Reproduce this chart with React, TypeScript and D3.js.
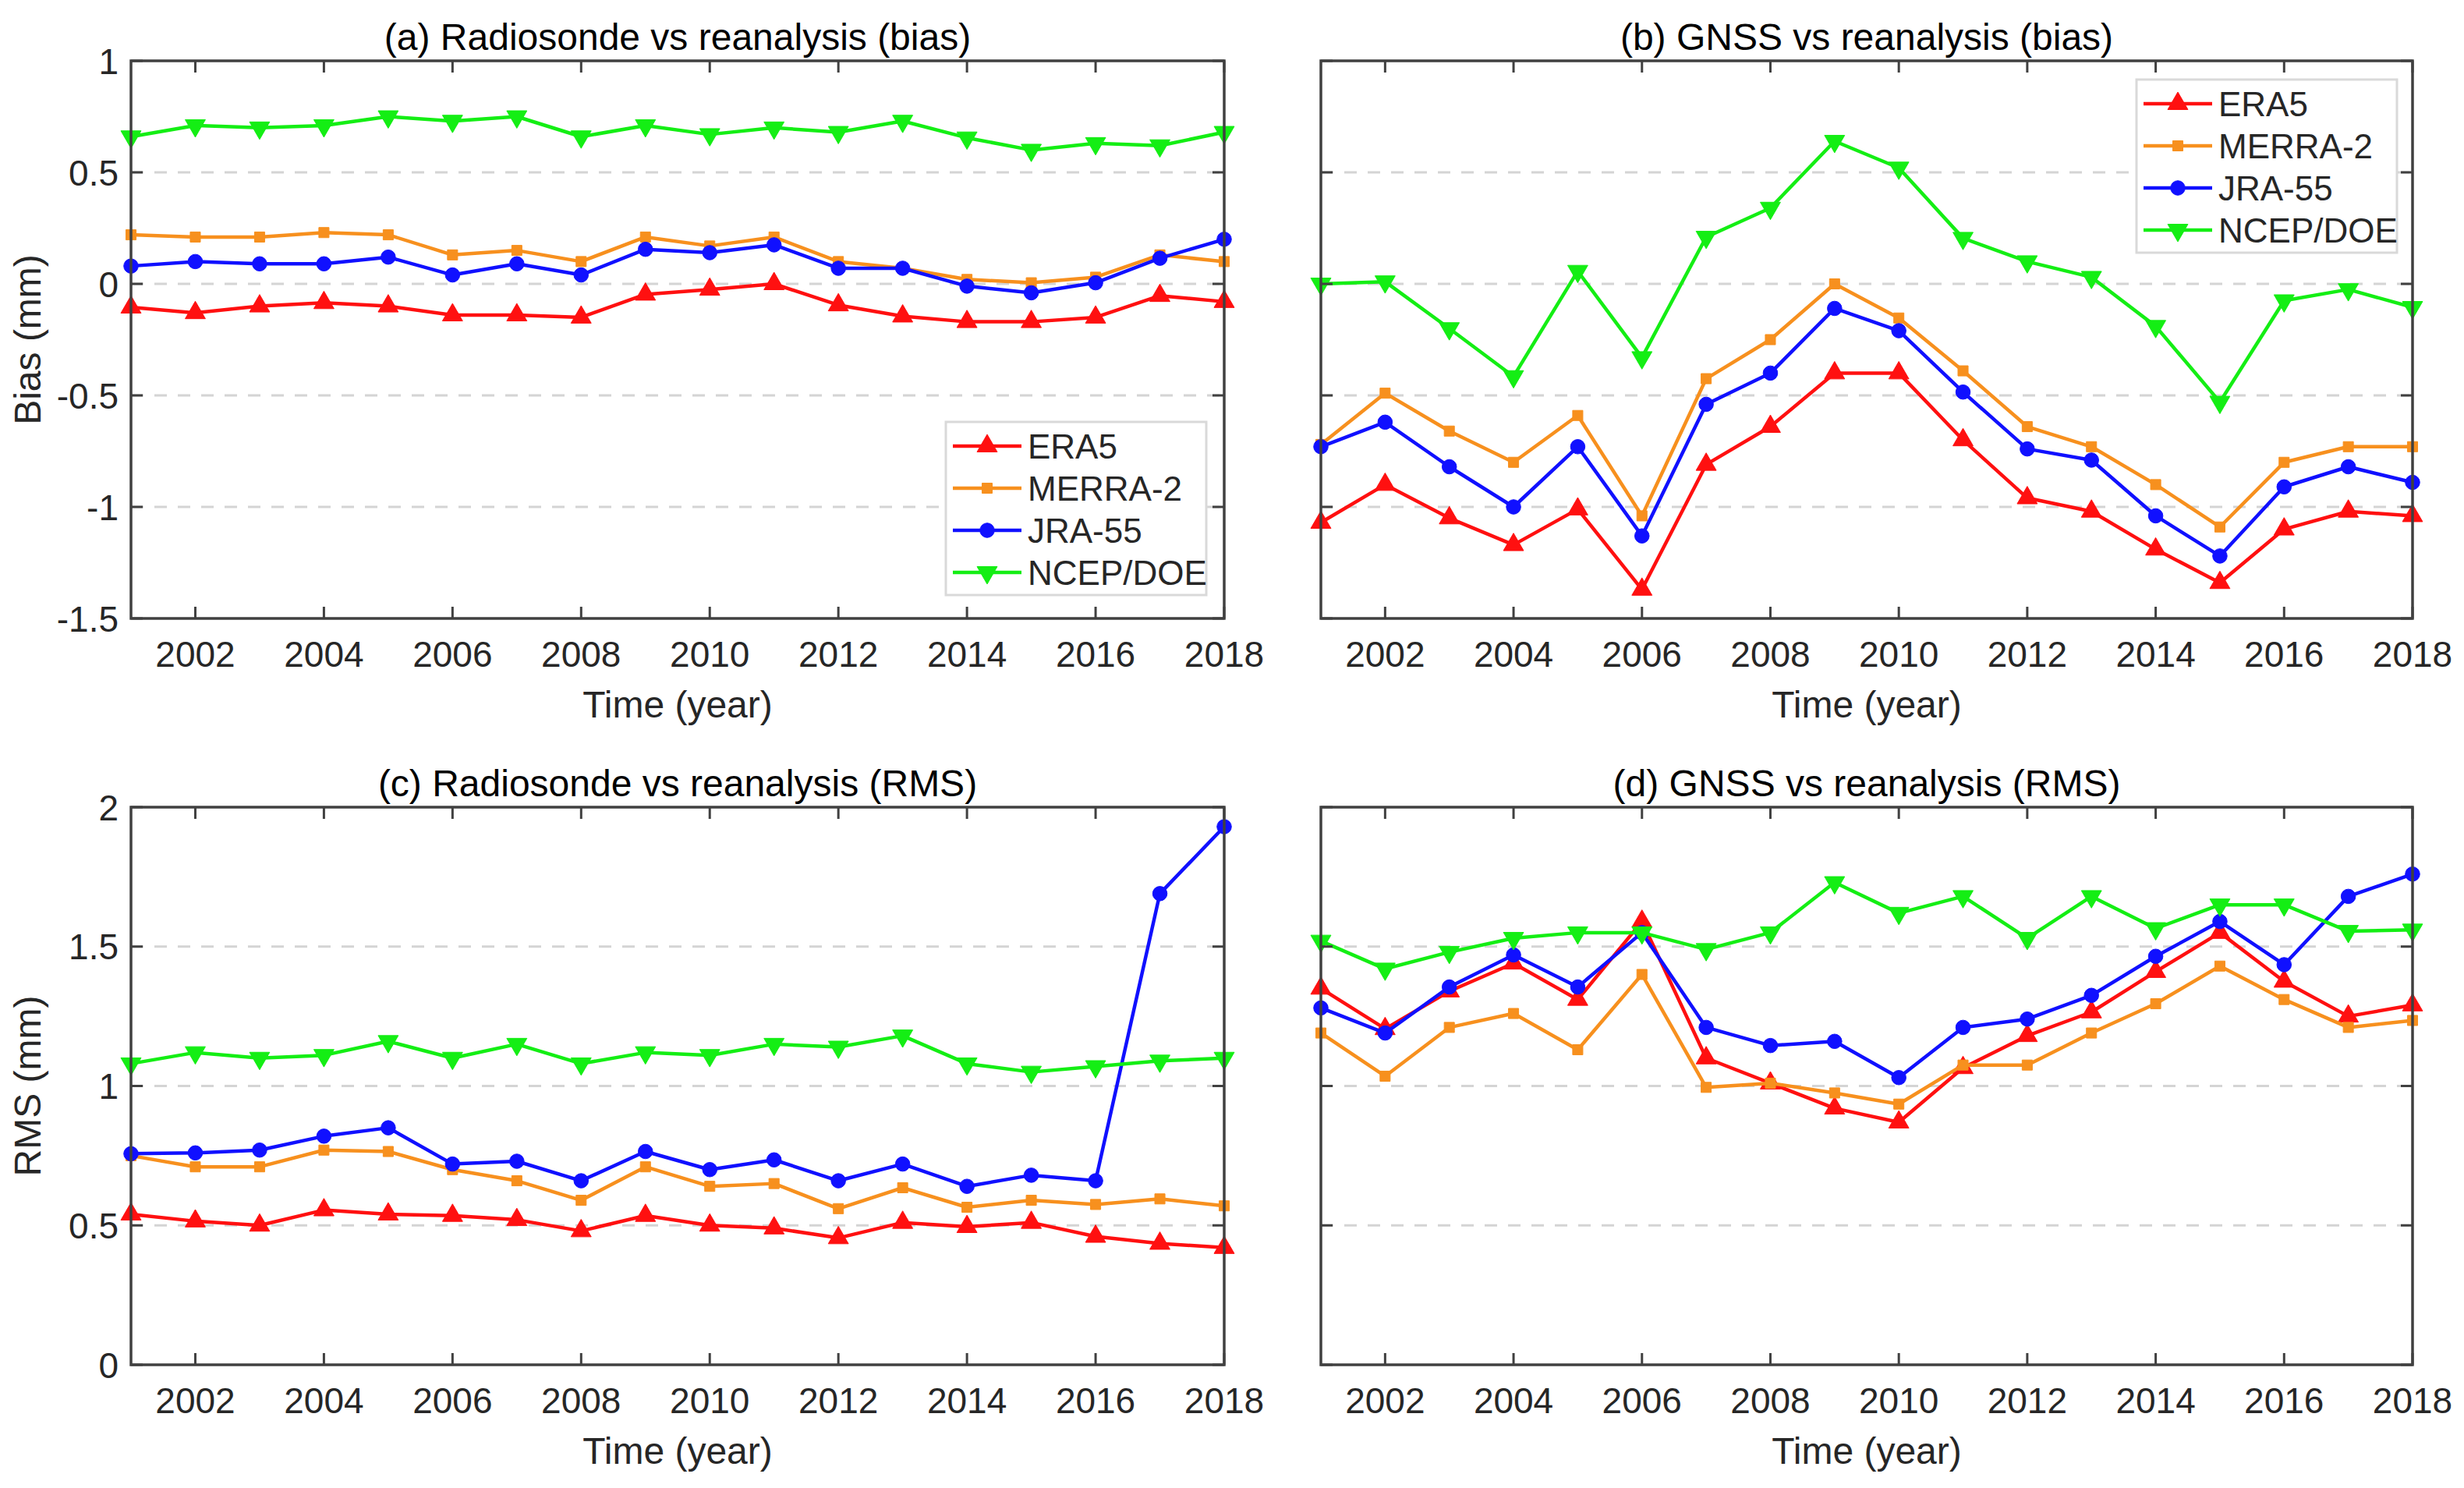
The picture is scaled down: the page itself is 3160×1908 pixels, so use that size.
import React from "react";
import * as d3 from "d3";

const years = [2001, 2002, 2003, 2004, 2005, 2006, 2007, 2008, 2009, 2010, 2011, 2012, 2013, 2014, 2015, 2016, 2017, 2018];
const xTickYears = [2002, 2004, 2006, 2008, 2010, 2012, 2014, 2016, 2018];
const seriesNames = ["ERA5", "MERRA-2", "JRA-55", "NCEP/DOE"];

// (a) Radiosonde vs reanalysis (bias)
const aERA5 = [-0.105, -0.13, -0.1, -0.085, -0.1, -0.14, -0.14, -0.15, -0.047, -0.025, 0.0, -0.095, -0.145, -0.17, -0.17, -0.15, -0.053, -0.08];
const aMERRA = [0.22, 0.21, 0.21, 0.23, 0.22, 0.13, 0.15, 0.1, 0.21, 0.17, 0.21, 0.1, 0.07, 0.02, 0.005, 0.03, 0.13, 0.1];
const aJRA = [0.08, 0.1, 0.09, 0.09, 0.12, 0.04, 0.09, 0.04, 0.155, 0.14, 0.175, 0.07, 0.07, -0.01, -0.04, 0.005, 0.115, 0.2];
const aNCEP = [0.66, 0.71, 0.7, 0.71, 0.75, 0.73, 0.75, 0.66, 0.71, 0.67, 0.7, 0.68, 0.73, 0.655, 0.6, 0.63, 0.62, 0.68];

// (b) GNSS vs reanalysis (bias)
const bERA5 = [-1.07, -0.9, -1.05, -1.17, -1.01, -1.37, -0.81, -0.64, -0.4, -0.4, -0.7, -0.96, -1.02, -1.19, -1.34, -1.1, -1.02, -1.04];
const bMERRA = [-0.72, -0.49, -0.66, -0.8, -0.59, -1.04, -0.425, -0.25, 0.0, -0.153, -0.39, -0.64, -0.73, -0.9, -1.09, -0.8, -0.73, -0.73];
const bJRA = [-0.73, -0.62, -0.82, -1.0, -0.73, -1.13, -0.54, -0.4, -0.11, -0.21, -0.485, -0.74, -0.79, -1.04, -1.22, -0.91, -0.82, -0.89];
const bNCEP = [0.0, 0.01, -0.2, -0.415, 0.057, -0.33, 0.21, 0.34, 0.64, 0.52, 0.205, 0.1, 0.03, -0.19, -0.53, -0.075, -0.025, -0.105];

// (c) Radiosonde vs reanalysis (RMS)
const cERA5 = [0.54, 0.515, 0.5, 0.555, 0.54, 0.535, 0.52, 0.48, 0.535, 0.5, 0.49, 0.455, 0.51, 0.495, 0.51, 0.46, 0.435, 0.42];
const cMERRA = [0.75, 0.71, 0.71, 0.77, 0.765, 0.7, 0.66, 0.59, 0.71, 0.64, 0.65, 0.56, 0.635, 0.565, 0.59, 0.575, 0.595, 0.57];
const cJRA = [0.757, 0.76, 0.77, 0.82, 0.85, 0.72, 0.73, 0.66, 0.765, 0.7, 0.735, 0.66, 0.72, 0.64, 0.68, 0.66, 1.69, 1.93];
const cNCEP = [1.08, 1.12, 1.1, 1.11, 1.16, 1.1, 1.15, 1.08, 1.12, 1.11, 1.15, 1.14, 1.18, 1.08, 1.05, 1.07, 1.09, 1.1];

// (d) GNSS vs reanalysis (RMS)
const dERA5 = [1.35, 1.205, 1.34, 1.44, 1.31, 1.59, 1.1, 1.01, 0.92, 0.87, 1.065, 1.18, 1.265, 1.41, 1.55, 1.375, 1.25, 1.29];
const dMERRA = [1.19, 1.035, 1.21, 1.26, 1.13, 1.4, 0.995, 1.01, 0.975, 0.935, 1.075, 1.075, 1.19, 1.295, 1.43, 1.31, 1.21, 1.235];
const dJRA = [1.28, 1.19, 1.355, 1.47, 1.355, 1.55, 1.21, 1.145, 1.16, 1.03, 1.21, 1.24, 1.325, 1.465, 1.59, 1.435, 1.68, 1.76];
const dNCEP = [1.52, 1.42, 1.48, 1.53, 1.55, 1.55, 1.49, 1.55, 1.73, 1.62, 1.68, 1.53, 1.68, 1.565, 1.65, 1.65, 1.555, 1.56];

const biasTicks = [-1.5, -1, -0.5, 0, 0.5, 1];
const biasTickLabels = ["-1.5", "-1", "-0.5", "0", "0.5", "1"];
const rmsTicks = [0, 0.5, 1, 1.5, 2];
const rmsTickLabels = ["0", "0.5", "1", "1.5", "2"];

const COLORS = ["#ff1010", "#f7901e", "#1010ff", "#14ee14"];
const FONT = "'Liberation Sans', Arial, Helvetica, sans-serif";
const TEXT = "#262626";
const AXIS = "#404040";

type MarkerKind = "up" | "square" | "circle" | "down";
const MARKERS: MarkerKind[] = ["up", "square", "circle", "down"];

function markerPath(kind: MarkerKind): string {
  if (kind === "up" || kind === "down") return d3.symbol().type(d3.symbolTriangle).size(290)() || "";
  if (kind === "square") return d3.symbol().type(d3.symbolSquare).size(170)() || "";
  return d3.symbol().type(d3.symbolCircle).size(270)() || "";
}

function Marker({ kind, x, y, color }: { kind: MarkerKind; x: number; y: number; color: string }) {
  const rot = kind === "down" ? " rotate(180)" : "";
  return <path d={markerPath(kind)} transform={`translate(${x},${y})${rot}`} fill={color} stroke={color} strokeWidth={1} />;
}

interface PanelProps {
  left: number;
  top: number;
  width: number;
  height: number;
  title: string;
  domain: [number, number];
  ticks: number[];
  tickLabels: string[] | null;
  yLabel: string | null;
  series: number[][];
  legend: { x: number; y: number } | null;
}

function Panel(p: PanelProps) {
  const x = d3.scaleLinear().domain([years[0], years[years.length - 1]]).range([p.left, p.left + p.width]);
  const y = d3.scaleLinear().domain(p.domain).range([p.top + p.height, p.top]);
  const line = d3
    .line<number>()
    .x((_, i) => x(years[i]))
    .y((d) => y(d));
  const tickLen = 15;
  const innerTicks = p.ticks.filter((t) => t > p.domain[0] && t < p.domain[1]);
  const right = p.left + p.width;
  const bottom = p.top + p.height;
  const cx = p.left + p.width / 2;
  const cy = p.top + p.height / 2;

  return (
    <g>
      {innerTicks.map((t) => (
        <line key={"g" + t} x1={p.left} x2={right} y1={y(t)} y2={y(t)} stroke="#d4d4d4" strokeWidth={3} strokeDasharray="16 14" />
      ))}
      {p.series.map((vals, si) => (
        <g key={"s" + si}>
          <path d={line(vals) || ""} fill="none" stroke={COLORS[si]} strokeWidth={4.5} strokeLinejoin="round" />
          {vals.map((v, i) => (
            <Marker key={i} kind={MARKERS[si]} x={x(years[i])} y={y(v)} color={COLORS[si]} />
          ))}
        </g>
      ))}
      <rect x={p.left} y={p.top} width={p.width} height={p.height} fill="none" stroke={AXIS} strokeWidth={3.5} />
      {xTickYears.map((yr) => (
        <g key={"xt" + yr}>
          <line x1={x(yr)} x2={x(yr)} y1={bottom} y2={bottom - tickLen} stroke={AXIS} strokeWidth={3} />
          <line x1={x(yr)} x2={x(yr)} y1={p.top} y2={p.top + tickLen} stroke={AXIS} strokeWidth={3} />
          <text x={x(yr)} y={bottom + 62} textAnchor="middle" fontSize={46} fill={TEXT} fontFamily={FONT}>
            {yr}
          </text>
        </g>
      ))}
      {p.ticks.map((t, i) => (
        <g key={"yt" + t}>
          <line x1={p.left} x2={p.left + tickLen} y1={y(t)} y2={y(t)} stroke={AXIS} strokeWidth={3} />
          <line x1={right} x2={right - tickLen} y1={y(t)} y2={y(t)} stroke={AXIS} strokeWidth={3} />
          {p.tickLabels && (
            <text x={p.left - 16} y={y(t)} dy="0.36em" textAnchor="end" fontSize={46} fill={TEXT} fontFamily={FONT}>
              {p.tickLabels[i]}
            </text>
          )}
        </g>
      ))}
      <text x={cx} y={p.top - 14} textAnchor="middle" fontSize={48} fill="#000" fontFamily={FONT}>
        {p.title}
      </text>
      <text x={cx} y={bottom + 127} textAnchor="middle" fontSize={48} fill={TEXT} fontFamily={FONT}>
        Time (year)
      </text>
      {p.yLabel && (
        <text transform={`translate(52,${cy}) rotate(-90)`} textAnchor="middle" fontSize={48} fill={TEXT} fontFamily={FONT}>
          {p.yLabel}
        </text>
      )}
      {p.legend && (
        <g transform={`translate(${p.legend.x},${p.legend.y})`}>
          <rect x={0} y={0} width={334} height={222} fill="#fff" stroke="#d9d9d9" strokeWidth={3} />
          {seriesNames.map((n, i) => {
            const ry = 31 + i * 54;
            return (
              <g key={n}>
                <line x1={9} x2={97} y1={ry} y2={ry} stroke={COLORS[i]} strokeWidth={4.5} />
                <Marker kind={MARKERS[i]} x={53} y={ry} color={COLORS[i]} />
                <text x={105} y={ry} dy="0.36em" fontSize={44} fill={TEXT} fontFamily={FONT}>
                  {n}
                </text>
              </g>
            );
          })}
        </g>
      )}
    </g>
  );
}

export default function App() {
  const W = 3160;
  const H = 1908;
  const pw = 1402;
  const ph = 715;
  return (
    <svg width={W} height={H} viewBox={`0 0 ${W} ${H}`} style={{ position: "absolute", left: 0, top: 0, background: "#fff" }}>
      <rect x={0} y={0} width={W} height={H} fill="#fff" />
      <Panel
        left={168}
        top={78}
        width={pw}
        height={ph}
        title="(a) Radiosonde vs reanalysis (bias)"
        domain={[-1.5, 1]}
        ticks={biasTicks}
        tickLabels={biasTickLabels}
        yLabel="Bias (mm)"
        series={[aERA5, aMERRA, aJRA, aNCEP]}
        legend={{ x: 1213, y: 541 }}
      />
      <Panel
        left={1694}
        top={78}
        width={1400}
        height={ph}
        title="(b) GNSS vs reanalysis (bias)"
        domain={[-1.5, 1]}
        ticks={biasTicks}
        tickLabels={null}
        yLabel={null}
        series={[bERA5, bMERRA, bJRA, bNCEP]}
        legend={{ x: 2740, y: 102 }}
      />
      <Panel
        left={168}
        top={1035}
        width={pw}
        height={ph}
        title="(c) Radiosonde vs reanalysis (RMS)"
        domain={[0, 2]}
        ticks={rmsTicks}
        tickLabels={rmsTickLabels}
        yLabel="RMS (mm)"
        series={[cERA5, cMERRA, cJRA, cNCEP]}
        legend={null}
      />
      <Panel
        left={1694}
        top={1035}
        width={1400}
        height={ph}
        title="(d) GNSS vs reanalysis (RMS)"
        domain={[0, 2]}
        ticks={rmsTicks}
        tickLabels={null}
        yLabel={null}
        series={[dERA5, dMERRA, dJRA, dNCEP]}
        legend={null}
      />
    </svg>
  );
}
